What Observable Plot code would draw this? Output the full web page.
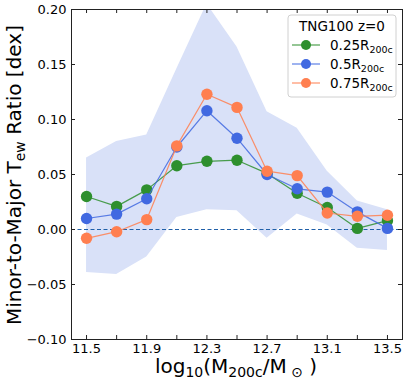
<!DOCTYPE html>
<html><head><meta charset="utf-8">
<script src="https://cdn.jsdelivr.net/npm/d3@7"></script>
<script src="https://cdn.jsdelivr.net/npm/@observablehq/plot@0.6"></script>
<style>body{margin:0;background:#fff;} svg{display:block}</style>
</head><body><div id="chart"></div>
<script>
const mass = [11.5, 11.7, 11.9, 12.1, 12.3, 12.5, 12.7, 12.9, 13.1, 13.3, 13.5];
const r025 = [0.030, 0.021, 0.036, 0.058, 0.062, 0.063, 0.051, 0.033, 0.020, 0.001, 0.008];
const r050 = [0.010, 0.014, 0.028, 0.075, 0.108, 0.083, 0.050, 0.037, 0.034, 0.016, 0.001];
const r075 = [-0.008, -0.002, 0.009, 0.076, 0.123, 0.111, 0.053, 0.049, 0.015, 0.012, 0.013];
const bandLow = [-0.039, -0.041, -0.025, 0.011, 0.018, 0.017, -0.008, 0.014, 0.004, -0.017, -0.019];
const bandHigh = [0.065, 0.080, 0.086, 0.146, 0.205, 0.166, 0.107, 0.092, 0.053, 0.026, 0.018];
const seriesNames = ["0.25", "0.5", "0.75"];
const seriesColors = ["#2e8f2e", "#4169e1", "#ff7f50"];
const xTickLabels = [11.5, 11.9, 12.3, 12.7, 13.1, 13.5];
const xTicks = [11.5, 11.7, 11.9, 12.1, 12.3, 12.5, 12.7, 12.9, 13.1, 13.3, 13.5];
const yTicks = [-0.1, -0.05, 0, 0.05, 0.1, 0.15, 0.2];
const legendTitle = "TNG100 z=0";

const W = 407, H = 381, mL = 71, mR = 5, mT = 9, mB = 42;
const pw = W - mL - mR, ph = H - mT - mB;
const tk = 4;

const band = mass.map((m, i) => ({m, lo: bandLow[i], hi: bandHigh[i]}));
const seriesVals = [r025, r050, r075];
const pts = [];
seriesVals.forEach((vals, s) => mass.forEach((m, i) => pts.push({m, v: vals[i], s: seriesNames[s]})));

const marks = [
  Plot.areaY(band, {x: "m", y1: "lo", y2: "hi", fill: "#d9e1f8", clip: true}),
  Plot.ruleY([0], {stroke: "#1f5fa8", strokeDasharray: "4,2.5", strokeWidth: 1})
];
seriesNames.forEach((name, s) => {
  const d = pts.filter(p => p.s === name);
  marks.push(Plot.line(d, {x: "m", y: "v", stroke: seriesColors[s], strokeWidth: 1.2, strokeOpacity: 0.85}));
  marks.push(Plot.dot(d, {x: "m", y: "v", r: 5.7, fill: seriesColors[s], stroke: "none"}));
});
marks.push(
  Plot.tickX(xTicks, {x: d => d, insetTop: ph - tk, stroke: "#222"}),
  Plot.tickX(xTicks, {x: d => d, insetBottom: ph - tk, stroke: "#222"}),
  Plot.tickY(yTicks, {y: d => d, insetRight: pw - tk, stroke: "#222"}),
  Plot.tickY(yTicks, {y: d => d, insetLeft: pw - tk, stroke: "#222"}),
  Plot.frame({stroke: "#222", strokeWidth: 1}),
  Plot.axisX(xTickLabels, {tickSize: 0, tickPadding: 4, tickFormat: d => d.toFixed(1), fontSize: 13, label: null, fill: "#000"}),
  Plot.axisY(yTicks, {tickSize: 0, tickPadding: 5, tickFormat: d => d.toFixed(2).replace("-", "\u2212"), fontSize: 13, label: null, fill: "#000"})
);

const chart = Plot.plot({
  width: W, height: H,
  marginLeft: mL, marginRight: mR, marginTop: mT, marginBottom: mB,
  style: {fontFamily: "DejaVu Sans", fontSize: "13px", background: "#fff", color: "#000"},
  x: {domain: [11.4, 13.6], label: null},
  y: {domain: [-0.1, 0.2], label: null},
  marks
});
document.getElementById("chart").appendChild(chart);

const svg = d3.select(chart);
const ff = "DejaVu Sans";
// y label
const yl = svg.append("text")
  .attr("transform", `translate(21,${mT + ph / 2 + 1}) rotate(-90)`)
  .attr("text-anchor", "middle").attr("font-family", ff).attr("font-size", 20).attr("fill", "#000");
yl.append("tspan").text("Minor-to-Major T");
yl.append("tspan").attr("font-size", 14).attr("dy", 4).text("ew");
yl.append("tspan").attr("dy", -4).text(" Ratio [dex]");
// x label
const xl = svg.append("text")
  .attr("x", 236).attr("y", 373)
  .attr("text-anchor", "middle").attr("font-family", ff).attr("font-size", 20).attr("fill", "#000");
xl.append("tspan").text("log");
xl.append("tspan").attr("font-size", 14).attr("dy", 4).text("10");
xl.append("tspan").attr("dy", -4).text("(M");
xl.append("tspan").attr("font-size", 14).attr("dy", 4).text("200c");
xl.append("tspan").attr("dy", -4).text("/M");
xl.append("tspan").attr("font-size", 14).attr("dy", 4).text(" \u2299");
xl.append("tspan").attr("dy", -4).text(" )");

// legend
const lg = svg.append("g");
lg.append("rect").attr("x", 288).attr("y", 15).attr("width", 108).attr("height", 82)
  .attr("rx", 3).attr("fill", "#fff").attr("fill-opacity", 0.85).attr("stroke", "#d0d0d0");
lg.append("text").attr("x", 342).attr("y", 31).attr("text-anchor", "middle")
  .attr("font-family", ff).attr("font-size", 13.5).attr("fill", "#000").text(legendTitle);
seriesNames.forEach((name, s) => {
  const y = 45 + s * 19;
  lg.append("line").attr("x1", 292).attr("x2", 320).attr("y1", y).attr("y2", y)
    .attr("stroke", seriesColors[s]).attr("stroke-width", 1.2).attr("stroke-opacity", 0.85);
  lg.append("circle").attr("cx", 306).attr("cy", y).attr("r", 5).attr("fill", seriesColors[s]);
  const t = lg.append("text").attr("x", 330).attr("y", y + 5).attr("text-anchor", "start")
    .attr("font-family", ff).attr("font-size", 13.5).attr("fill", "#000");
  t.append("tspan").text(name + "R");
  t.append("tspan").attr("font-size", 9.5).attr("dy", 3).text("200c");
});
</script>
</body></html>
